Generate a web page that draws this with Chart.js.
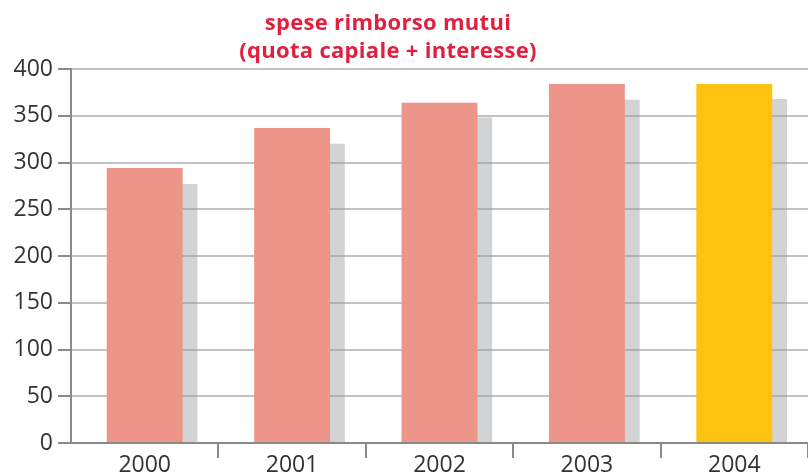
<!DOCTYPE html>
<html lang="it">
<head>
    <meta charset="UTF-8">
    <title>spese rimborso mutui</title>
    <style>
        body { margin: 0; background: #fff; }
        .wrap { position: relative; width: 808px; height: 474px; }
        #titolo {
            position: absolute; left: 0; top: 7px; width: 776px;
            text-align: center; color: #e11f3f;
            font-family: "Open Sans", sans-serif; font-weight: 700;
            font-size: 22px; line-height: 28px; letter-spacing: 0.3px;
        }
        canvas { position: absolute; left: 0; top: 0; }
    </style>
    <script src="https://cdn.jsdelivr.net/npm/chart.js"></script>
</head>
<body>
    <div class="wrap">
        <canvas id="grafico" width="808" height="474"></canvas>
        <div id="titolo">spese rimborso mutui<br>(quota capiale + interesse)</div>
    </div>

    <script>
        // dati
        const anni = ['2000', '2001', '2002', '2003', '2004'];
        const speseRimborso = [294, 337, 364, 384, 384];
        const serieGrigia = [277, 320, 348, 367, 368];
        const tickY = [0, 50, 100, 150, 200, 250, 300, 350, 400];

        const rosa = '#ec9588';
        const giallo = '#fec311';
        const coloriBarre = anni.map((a, i) => i === anni.length - 1 ? giallo : rosa);

        const fontAssi = { family: '"Open Sans", sans-serif', size: 23 };

        new Chart(document.getElementById('grafico'), {
            type: 'bar',
            data: {
                labels: anni,
                datasets: [
                    {
                        label: 'spese',
                        data: speseRimborso,
                        backgroundColor: coloriBarre,
                        grouped: false,
                        categoryPercentage: 1,
                        barPercentage: 0.515,
                        xAxisID: 'x'
                    },
                    {
                        label: 'grigio',
                        // barra grigia spostata un poco a destra
                        data: serieGrigia.map((v, i) => ({ x: i + 0.1, y: v })),
                        backgroundColor: 'rgba(153,157,159,0.45)',
                        grouped: false,
                        categoryPercentage: 1,
                        barPercentage: 0.515,
                        xAxisID: 'x2'
                    }
                ]
            },
            options: {
                responsive: false,
                animation: false,
                // l'ultima categoria esce un poco dal bordo destro
                layout: { padding: { top: 69, right: -3, left: 0, bottom: 0 } },
                plugins: {
                    legend: { display: false },
                    tooltip: { enabled: false }
                },
                scales: {
                    x: {
                        type: 'category',
                        offset: true,
                        grid: {
                            offset: true,
                            drawOnChartArea: false,
                            tickLength: 15,
                            lineWidth: 2,
                            tickColor: ctx => (ctx.index === 0 || ctx.index === anni.length) ? 'rgba(0,0,0,0)' : '#8a8a8a'
                        },
                        border: { color: '#8a8a8a', width: 2, z: 1 },
                        ticks: { color: '#333', font: fontAssi, padding: -6, maxRotation: 0 },
                        afterFit: s => { s.height = 31; }
                    },
                    x2: {
                        type: 'linear',
                        display: false,
                        offset: false,
                        grid: { offset: false },
                        min: -0.5,
                        max: anni.length - 0.5,
                        // un tick per anno, così la larghezza delle barre è quella di una categoria
                        afterBuildTicks: s => { s.ticks = anni.map((a, i) => ({ value: i })); }
                    },
                    y: {
                        min: 0,
                        max: 400,
                        afterBuildTicks: s => { s.ticks = tickY.map(v => ({ value: v })); },
                        grid: {
                            color: '#c2c2c2',
                            lineWidth: 2,
                            tickLength: 13,
                            tickColor: '#8a8a8a'
                        },
                        border: { color: '#8a8a8a', width: 2, z: 1 },
                        ticks: { color: '#333', font: fontAssi, padding: 5 },
                        afterFit: s => { s.width = 71; }
                    }
                }
            }
        });
    </script>
</body>
</html>
